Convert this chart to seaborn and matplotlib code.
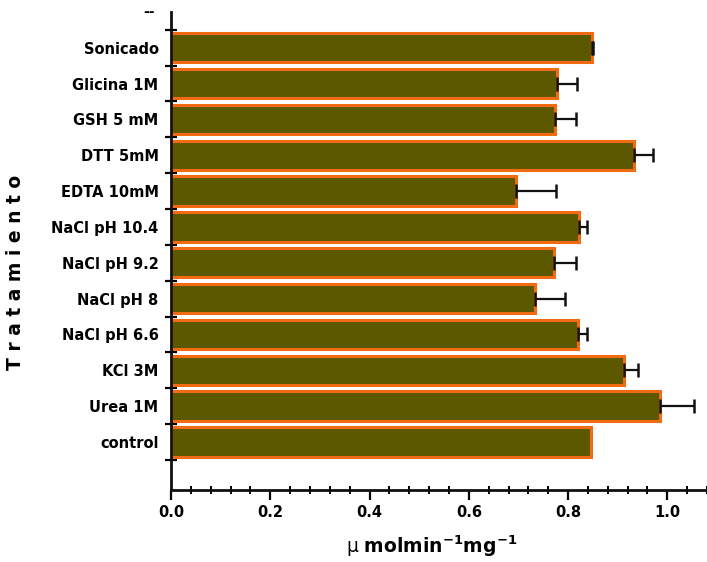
import matplotlib
matplotlib.use("Agg")
import matplotlib.pyplot as plt
import seaborn as sns
import pandas as pd
import numpy as np
from matplotlib.ticker import MultipleLocator, FixedLocator

categories = ["Sonicado", "Glicina 1M", "GSH 5 mM", "DTT 5mM", "EDTA 10mM",
              "NaCl pH 10.4", "NaCl pH 9.2", "NaCl pH 8", "NaCl pH 6.6",
              "KCl 3M", "Urea 1M", "control"]
values = [0.848, 0.778, 0.774, 0.932, 0.696, 0.822, 0.772, 0.734, 0.820,
          0.912, 0.986, 0.846]
errors = [0.003, 0.040, 0.042, 0.040, 0.080, 0.017, 0.043, 0.060, 0.018,
          0.028, 0.068, 0.0]

sns.set_style("ticks")
plt.rcParams['font.family'] = ['DejaVu Sans']
for k in ['text.color', 'xtick.color', 'ytick.color', 'axes.labelcolor', 'axes.edgecolor']:
    plt.rcParams[k] = 'black'

df = pd.DataFrame({"Tratamiento": categories, "valor": values})

fig = plt.figure(figsize=(7.07, 5.62), dpi=100)
ax = fig.add_axes([0.242, 0.128, 0.758, 0.851])

sns.barplot(data=df, y="Tratamiento", x="valor", orient="h", order=categories[::-1],
            color="#5c5800", edgecolor="#f26b12", linewidth=2.2, width=0.82,
            saturation=1, errorbar=None, ax=ax)

# error bars (one-sided, to the right), only where an error exists
pos = {c: i for i, c in enumerate(categories[::-1])}
sel = [i for i, e in enumerate(errors) if e > 0]
xs = [values[i] for i in sel]
ys = [pos[categories[i]] for i in sel]
es = [errors[i] for i in sel]
ax.errorbar(xs, ys, xerr=[np.zeros(len(es)), es], fmt="none",
            ecolor="#111111", elinewidth=1.6, capsize=5, capthick=1.8)

ax.set_xlim(0, 1.08)
ax.set_ylim(-1.34, 12.0)

ax.xaxis.set_major_locator(FixedLocator([0.0, 0.2, 0.4, 0.6, 0.8, 1.0]))
ax.xaxis.set_minor_locator(MultipleLocator(0.04))
ax.set_xticklabels(["0.0", "0.2", "0.4", "0.6", "0.8", "1.0"], fontweight="bold", fontsize=10.5)
ax.tick_params(axis="x", which="major", direction="out", length=7, width=1.6)
ax.tick_params(axis="x", which="minor", direction="inout", length=6, width=1.4)

ax.yaxis.set_major_locator(FixedLocator(list(range(12))))
ax.set_yticklabels(categories[::-1], fontweight="bold", fontsize=10.5)
ax.yaxis.set_minor_locator(FixedLocator([i - 0.5 for i in range(13)]))
ax.tick_params(axis="y", which="major", length=0, pad=9)
ax.tick_params(axis="y", which="minor", direction="inout", length=8, width=1.6)

ax.text(-0.045, 12.0, "--", transform=ax.transData, ha="center", va="center",
        fontsize=10, fontweight="bold")

for s in ["top", "right"]:
    ax.spines[s].set_visible(False)
for s in ["left", "bottom"]:
    ax.spines[s].set_linewidth(2.0)
    ax.spines[s].set_color("#111111")

ax.set_ylabel("")
ax.set_xlabel("")
fig.text(0.022, 0.515, "T r a t a m i e n t o", rotation=90, ha="center", va="center",
         fontsize=13.5, fontweight="bold")
fig.text(0.61, 0.028, r"μ $\mathbf{molmin^{-1}mg^{-1}}$", ha="center", va="center",
         fontsize=13.5)

fig.savefig("out.png", dpi=100)
